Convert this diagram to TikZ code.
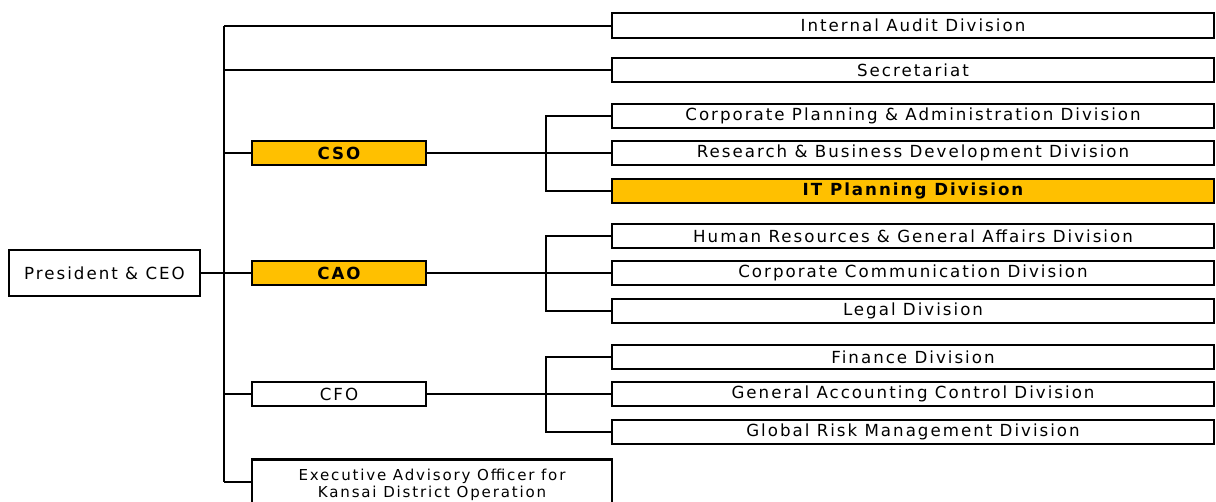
\documentclass[tikz,border=0pt]{standalone}
\usepackage{fontspec}
\setmainfont{DejaVu Sans}[LetterSpace=12]
\usepackage{tikz}

\definecolor{gold}{HTML}{FFC000}

\begin{document}
\begin{tikzpicture}[x=0.75pt, y=-0.75pt,
  box/.style={draw, line width=1.8pt, fill=white, inner sep=0pt,
    minimum height=18.4pt, font=\fontsize{12.5}{14}\selectfont},
  divbox/.style={box, minimum width=451.5pt},
  offbox/.style={box, minimum width=130.5pt},
  hilite/.style={fill=gold, font=\fontsize{12.5}{14}\selectfont\bfseries},
  link/.style={line width=1.5pt}]
  \clip (0,0) rectangle (1216,501);
  \useasboundingbox (0,0) rectangle (1216,501);

  % left side
  \node[box, minimum width=143pt, minimum height=34.5pt] (ceo) at (104.5,273) {President \& CEO};
  \node[offbox, hilite] (cso) at (339,153) {CSO};
  \node[offbox, hilite] (cao) at (339,273) {CAO};
  \node[offbox] (cfo) at (339,394) {CFO};
  \node[box, minimum width=270pt, minimum height=38pt, align=center,
    font=\fontsize{11.3}{12.5}\selectfont] (exec) at (432,485) {Executive Advisory Officer for\\Kansai District Operation};

  % divisions
  \node[divbox] (audit) at (913,25.5) {Internal Audit Division};
  \node[divbox] (secr) at (913,70) {Secretariat};
  \node[divbox] (plan) at (913,116) {Corporate Planning \& Administration Division};
  \node[divbox] (rbd) at (913,153) {Research \& Business Development Division};
  \node[divbox, hilite] (itp) at (913,191) {IT Planning Division};
  \node[divbox] (hr) at (913,236) {Human Resources \& General Affairs Division};
  \node[divbox] (comm) at (913,273) {Corporate Communication Division};
  \node[divbox] (legal) at (913,311) {Legal Division};
  \node[divbox] (fin) at (913,357) {Finance Division};
  \node[divbox] (gac) at (913,394) {General Accounting Control Division};
  \node[divbox] (risk) at (913,432) {Global Risk Management Division};

  % trunk
  \coordinate (top) at (224,25.5);
  \coordinate (bot) at (224,482);
  \draw[link] (top) -- (bot);
  \draw[link] (top) -- (audit.west);
  \draw[link] (secr.west -| top) -- (secr.west);
  \draw[link] (ceo.east) -- (cao.west);
  \draw[link] (cso.west -| top) -- (cso.west);
  \draw[link] (cfo.west -| top) -- (cfo.west);
  \draw[link] (bot) -- (exec.west |- bot);

  % branches
  \draw[link] (cso.east) -- (rbd.west);
  \draw[link] (plan.west) -- ++(-65,0) |- (itp.west);
  \draw[link] (cao.east) -- (comm.west);
  \draw[link] (hr.west) -- ++(-65,0) |- (legal.west);
  \draw[link] (cfo.east) -- (gac.west);
  \draw[link] (fin.west) -- ++(-65,0) |- (risk.west);
\end{tikzpicture}
\end{document}
